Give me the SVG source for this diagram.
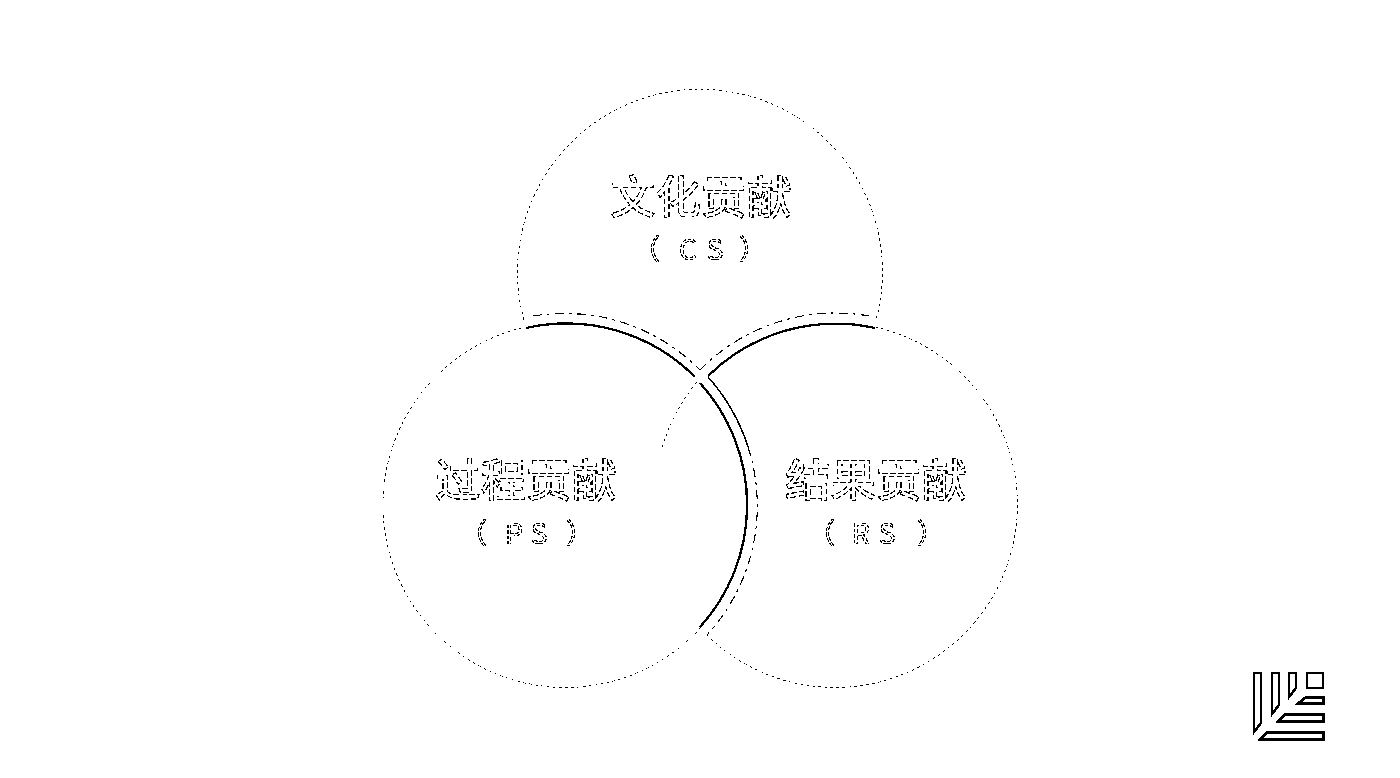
<svg xmlns="http://www.w3.org/2000/svg" width="1400" height="778" viewBox="0 0 1400 778">
<style>
.thin{fill:none;stroke:#000;stroke-width:.9;stroke-dasharray:3 3}
.dash{fill:none;stroke:#000;stroke-width:1.1;stroke-dasharray:9 5 3 5}
.solid{fill:none;stroke:#000;stroke-width:1.5}
.thick{fill:none;stroke:#000;stroke-width:2.3}
text{fill:#fff;stroke:#000;font-family:"Noto Sans CJK SC","Liberation Sans",sans-serif;text-anchor:middle}
.t{font-size:45.5px;font-weight:500;stroke-width:1.2;stroke-dasharray:6 2}
.s{font-size:28px;stroke-width:1.2;stroke-dasharray:4 1.5}
.logo{fill:#fff;stroke:#000;stroke-width:2.5;stroke-linejoin:miter}
</style>
<defs>
<filter id="bw" x="0" y="0" width="100%" height="100%" color-interpolation-filters="sRGB">
<feComponentTransfer><feFuncR type="discrete" tableValues="0 0 1 1"/><feFuncG type="discrete" tableValues="0 0 1 1"/><feFuncB type="discrete" tableValues="0 0 1 1"/></feComponentTransfer>
</filter>
</defs>
<g filter="url(#bw)">
<rect width="1400" height="778" fill="#fff"/>
<g id="connectors">
<path class="dash" d="M533 316A191 191 0 0 1 700 370"/>
<path class="dash" d="M700 370A191 191 0 0 1 875 317"/>
<path class="solid" d="M708 377A191 191 0 0 1 748 447"/>
<path class="dash" d="M748 447A191 191 0 0 1 707 635"/>
<path class="thin" d="M697 382A183 183 0 0 0 662 448"/>
</g>
<g id="node-cs">
<path class="thin" d="M524 320A182.500 182.500 0 1 1 876 320"/>
<text class="t" x="701" y="214">文化贡献</text>
<text class="s" x="646 688 715 753" y="260">（CS）</text>
</g>
<g id="node-ps">
<path class="thick" d="M526 328A181.500 181.500 0 0 1 695 377"/>
<path class="thick" d="M700 383A181.500 181.500 0 0 1 700 627"/>
<path class="thin" d="M700.700 627.600A182.500 182.500 0 1 1 525.800 326.900"/>
<text class="t" x="526" y="497">过程贡献</text>
<text class="s" x="473 514 539 580" y="544">（PS）</text>
</g>
<g id="node-rs">
<path class="thick" d="M708 376A181.500 181.500 0 0 1 875 328"/>
<path class="thin" d="M875.200 327A182.500 182.500 0 1 1 706.900 635.100"/>
<text class="t" x="876" y="497">结果贡献</text>
<text class="s" x="821 861 887 931" y="544">（RS）</text>
</g>
<g id="logo">
<path class="logo" d="M1254 673H1261V723L1254 732Z"/>
<path class="logo" d="M1272 673H1279V705L1272 714Z"/>
<path class="logo" d="M1289 673H1296V688L1289 697Z"/>
<rect class="logo" x="1307" y="673" width="16" height="15"/>
<path class="logo" d="M1305.500 697.500H1323.500V703.500H1298Z"/>
<path class="logo" d="M1285 714.500H1323.500V721.500H1278Z"/>
<path class="logo" d="M1267 732.500H1323.500V739.500H1260Z"/>
</g>
</g>
</svg>
